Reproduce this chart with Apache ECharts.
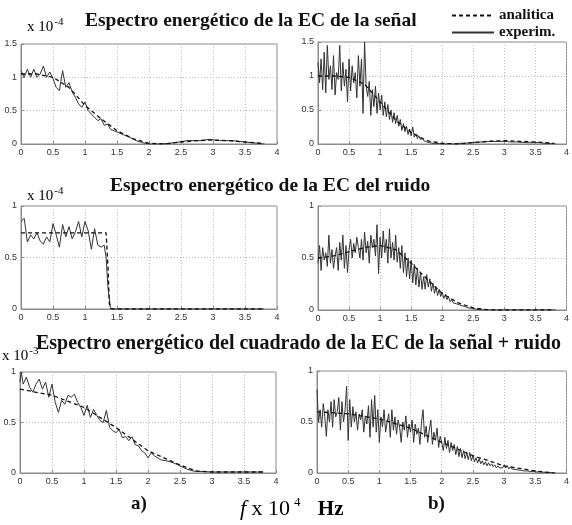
<!DOCTYPE html>
<html>
<head>
<meta charset="utf-8">
<script src="https://cdn.jsdelivr.net/npm/echarts@6/dist/echarts.min.js"></script>
<style>
  html, body { margin: 0; padding: 0; background: #fff; }
  #chart { width: 572px; height: 525px; }
</style>
</head>
<body>
<div id="chart"></div>
<script>
// frequency axis in units of 1e4 Hz
const xTicks = [0, 0.5, 1, 1.5, 2, 2.5, 3, 3.5, 4];
const stepB = 0.025; // sample spacing of the right-hand (b) columns

// --- row 1: señal (x 1e-4) ---
const fSigA = [0, 0.25, 0.5, 0.75, 1.0, 1.25, 1.5, 1.75, 2.0, 2.25, 2.5, 2.75, 3.0, 3.25, 3.5, 3.8];
const sigAnalytic = [1.05, 1.05, 1.0, 0.85, 0.58, 0.38, 0.2, 0.08, 0.01, 0.0, 0.03, 0.05, 0.06, 0.05, 0.03, 0.01];
const fSigExp = [0, 0.05, 0.1, 0.15, 0.2, 0.25, 0.3, 0.35, 0.4, 0.45, 0.5, 0.55, 0.6, 0.65, 0.7, 0.75, 0.8, 0.85, 0.9, 0.95,
  1.0, 1.05, 1.1, 1.15, 1.2, 1.25, 1.3, 1.35, 1.4, 1.5, 1.6, 1.7, 1.8, 1.9, 2.0, 2.2, 2.4, 2.6, 2.8, 2.95, 3.1, 3.3, 3.5, 3.7, 3.8];
const sigExpA = [1.1, 1.0, 1.12, 1.0, 1.12, 1.0, 1.05, 1.17, 1.0, 1.08, 0.98, 0.85, 0.8, 1.1, 0.85, 0.92, 0.78, 0.7, 0.6, 0.55,
  0.63, 0.5, 0.45, 0.4, 0.35, 0.38, 0.28, 0.3, 0.22, 0.18, 0.14, 0.1, 0.05, 0.02, 0.0, 0.0, 0.02, 0.05, 0.05, 0.07, 0.05, 0.05, 0.03, 0.01, 0.0];
const sigAnalyticB = [1.0, 1.0, 0.98, 0.88, 0.62, 0.35, 0.17, 0.05, 0.01, 0.0, 0.02, 0.04, 0.05, 0.04, 0.03, 0.01];
const sigExpB = [
  1.2, 0.9, 1.25, 0.8, 1.35, 0.75, 1.45, 0.95, 1.15, 0.8, 1.3, 0.72, 1.05, 0.95, 1.45, 0.78, 1.2, 0.85, 1.1, 0.62,
  1.25, 0.78, 1.15, 0.9, 1.05, 0.68, 1.3, 0.85, 1.25, 0.45, 1.5,
  0.85, 0.7, 0.92, 0.42, 0.8, 0.55, 0.85, 0.45, 0.75, 0.5, 0.72, 0.42, 0.62, 0.4, 0.58, 0.36, 0.5, 0.32, 0.46, 0.3,
  0.42, 0.26, 0.36, 0.2, 0.3, 0.18, 0.26, 0.14, 0.22, 0.12, 0.25, 0.1, 0.15, 0.08, 0.12, 0.06, 0.09, 0.05, 0.07, 0.03,
  0.05, 0.02, 0.03, 0.01, 0.02, 0.01,
  0.01, 0.005, 0.01, 0, 0.005, 0, 0, 0.005, 0, 0, 0.005, 0, 0.005, 0.01, 0.005, 0.01,
  0.02, 0.01, 0.03, 0.015, 0.035, 0.02, 0.04, 0.02, 0.045, 0.025, 0.05, 0.03, 0.055, 0.03, 0.05, 0.035, 0.06, 0.035, 0.055, 0.04,
  0.06, 0.035, 0.06, 0.04, 0.055, 0.035, 0.06, 0.04, 0.055, 0.035, 0.05, 0.03, 0.05, 0.03, 0.045, 0.03, 0.045, 0.025, 0.04, 0.025,
  0.04, 0.02, 0.035, 0.02, 0.03, 0.02, 0.03,
  0.02, 0.015, 0.02, 0.01, 0.015, 0.01, 0.01, 0.008, 0.008, 0.005, 0.005, 0.004, 0.003, 0.002
];

// --- row 2: ruido (x 1e-4) ---
const fNoiseA = [0, 1.33, 1.36, 1.38, 1.42, 3.8];
const noiseAnalyticA = [0.74, 0.74, 0.4, 0.05, 0.0, 0.0];
const fNoiseExp = [0, 0.05, 0.1, 0.15, 0.2, 0.25, 0.3, 0.35, 0.4, 0.45, 0.5, 0.55, 0.6, 0.65, 0.7, 0.75, 0.8, 0.85, 0.9, 0.95,
  1.0, 1.05, 1.1, 1.15, 1.2, 1.25, 1.3, 1.33, 1.36, 1.4, 3.8];
const noiseExpA = [0.85, 0.88, 0.65, 0.72, 0.68, 0.74, 0.66, 0.63, 0.7, 0.65, 0.83, 0.72, 0.6, 0.82, 0.7, 0.8, 0.68, 0.75, 0.85, 0.7,
  0.85, 0.76, 0.58, 0.78, 0.62, 0.6, 0.62, 0.5, 0.2, 0.0, 0.0];
const fNoiseB = [0, 0.25, 0.5, 0.75, 1.0, 1.25, 1.5, 1.75, 2.0, 2.25, 2.5, 2.75, 3.8];
const noiseAnalyticB = [0.5, 0.52, 0.56, 0.6, 0.62, 0.58, 0.45, 0.3, 0.16, 0.07, 0.02, 0.0, 0.0];
const noiseExpB = [
  0.45, 0.62, 0.38, 0.6, 0.48, 0.55, 0.42, 0.72, 0.45, 0.58, 0.4, 0.52, 0.6, 0.38, 0.65, 0.48, 0.72, 0.4, 0.62, 0.36,
  0.58, 0.68, 0.5, 0.64, 0.55, 0.7, 0.6, 0.5, 0.68, 0.48, 0.75, 0.55, 0.66, 0.45, 0.72, 0.6, 0.68, 0.52, 0.82, 0.35,
  0.7, 0.5, 0.76, 0.55, 0.68, 0.45, 0.78, 0.5, 0.65, 0.48, 0.72, 0.46, 0.6, 0.4, 0.62, 0.36, 0.55, 0.32, 0.5, 0.3,
  0.48, 0.26, 0.44, 0.24, 0.4, 0.22, 0.36, 0.2, 0.32, 0.2,
  0.34, 0.22, 0.3, 0.18, 0.26, 0.16, 0.22, 0.14, 0.2, 0.13, 0.17, 0.11, 0.15, 0.1, 0.13, 0.08, 0.1, 0.07, 0.08, 0.06,
  0.07, 0.05, 0.05, 0.04, 0.04, 0.03, 0.03, 0.02, 0.02, 0.015, 0.012, 0.01, 0.008, 0.005,
  0.004, 0.003, 0.002, 0.002, 0.001, 0.001, 0.001, 0.001, 0.001, 0.001, 0.001, 0.001, 0.001, 0.001, 0.001, 0.001, 0.001, 0.001, 0.001, 0.001,
  0.001, 0.001, 0.001, 0.001, 0.001, 0.001, 0.001, 0.001, 0.001, 0.001, 0.001, 0.001, 0.001, 0.001, 0.001, 0.001, 0.001, 0.001, 0.001, 0.001,
  0.001, 0.001, 0.001, 0.001, 0.001, 0.001, 0.001, 0.001, 0.001, 0.001
];

// --- row 3: cuadrado de señal + ruido (x 1e-3) ---
const fSqA = [0, 0.5, 1.0, 1.5, 2.0, 2.5, 2.75, 3.0, 3.8];
const sqAnalyticA = [0.83, 0.77, 0.65, 0.45, 0.22, 0.08, 0.02, 0.01, 0.01];
const fSqExp = [0, 0.02, 0.05, 0.1, 0.15, 0.2, 0.25, 0.3, 0.35, 0.4, 0.45, 0.5, 0.55, 0.6, 0.65, 0.7, 0.75, 0.8, 0.85, 0.9, 0.95,
  1.0, 1.05, 1.1, 1.15, 1.2, 1.25, 1.3, 1.35, 1.4, 1.45, 1.5, 1.55, 1.6, 1.65, 1.7, 1.75, 1.8, 1.85, 1.9, 1.95,
  2.0, 2.05, 2.1, 2.2, 2.3, 2.4, 2.5, 2.6, 2.7, 2.8, 3.0, 3.8];
const sqExpA = [0.9, 1.0, 0.88, 0.95, 0.85, 0.8, 0.88, 0.93, 0.83, 0.9, 0.75, 0.88, 0.7, 0.6, 0.72, 0.68, 0.77, 0.75, 0.78, 0.7, 0.65,
  0.57, 0.67, 0.55, 0.63, 0.57, 0.52, 0.5, 0.62, 0.45, 0.42, 0.4, 0.43, 0.35, 0.36, 0.32, 0.36, 0.28, 0.27, 0.22, 0.2,
  0.15, 0.2, 0.17, 0.13, 0.12, 0.1, 0.07, 0.04, 0.02, 0.015, 0.01, 0.01];
const fSqB = [0, 0.5, 1.0, 1.5, 2.0, 2.5, 3.0, 3.5, 3.8];
const sqAnalyticB = [0.6, 0.58, 0.53, 0.44, 0.3, 0.17, 0.07, 0.02, 0.0];
const sqExpB = [
  0.82, 0.5, 0.62, 0.45, 0.68, 0.55, 0.36, 0.62, 0.5, 0.7, 0.45, 0.72, 0.55, 0.6, 0.74, 0.42, 0.7, 0.5, 0.62, 0.85,
  0.32, 0.72, 0.45, 0.65, 0.5, 0.6, 0.42, 0.58, 0.52, 0.62, 0.4, 0.56, 0.48, 0.66, 0.35, 0.72, 0.45, 0.76, 0.4, 0.62,
  0.3, 0.55, 0.45, 0.62, 0.4, 0.5, 0.58, 0.35, 0.62, 0.42, 0.55, 0.38, 0.52, 0.45, 0.3, 0.5, 0.42, 0.56, 0.35, 0.48,
  0.4, 0.52, 0.3, 0.48, 0.38, 0.44, 0.28, 0.5, 0.62, 0.35, 0.46, 0.3, 0.42, 0.52, 0.28, 0.4, 0.32, 0.44, 0.25, 0.36,
  0.3, 0.22, 0.35, 0.24, 0.32, 0.2, 0.3, 0.22, 0.28, 0.18, 0.26, 0.16, 0.24, 0.15, 0.22, 0.14, 0.2, 0.13, 0.2, 0.12,
  0.17, 0.11, 0.15, 0.1, 0.14, 0.09, 0.12, 0.08, 0.11, 0.07, 0.1, 0.07, 0.09, 0.06, 0.08, 0.05, 0.07, 0.05, 0.06, 0.05,
  0.08, 0.05, 0.07, 0.04, 0.06, 0.04, 0.05, 0.035, 0.045, 0.03, 0.04, 0.025, 0.035, 0.02, 0.03, 0.02, 0.025, 0.015, 0.02, 0.015,
  0.018, 0.01, 0.015, 0.01, 0.012, 0.008, 0.01, 0.006, 0.008, 0.005, 0.004, 0.003, 0.002, 0.001
];

const pairs = (xs, ys) => ys.map((y, i) => [xs[i], y]);
const stepped = ys => ys.map((y, i) => [i * stepB, y]);

const serif = 'Liberation Serif, Times New Roman, serif';
const tickFont = 'Liberation Sans Narrow, Liberation Sans, Arial, sans-serif';

const grids = [
  { left: 21, top: 44, width: 256, height: 100, ymax: 1.5 },
  { left: 318, top: 42, width: 249, height: 102, ymax: 1.5 },
  { left: 21, top: 206, width: 256, height: 103, ymax: 1 },
  { left: 318, top: 206, width: 249, height: 104, ymax: 1 },
  { left: 20, top: 372, width: 256, height: 101, ymax: 1 },
  { left: 317, top: 371, width: 250, height: 102, ymax: 1 }
];

const lines = [
  [pairs(fSigA, sigAnalytic), pairs(fSigExp, sigExpA)],
  [pairs(fSigA, sigAnalyticB), stepped(sigExpB)],
  [pairs(fNoiseA, noiseAnalyticA), pairs(fNoiseExp, noiseExpA)],
  [pairs(fNoiseB, noiseAnalyticB), stepped(noiseExpB)],
  [pairs(fSqA, sqAnalyticA), pairs(fSqExp, sqExpA)],
  [pairs(fSqB, sqAnalyticB), stepped(sqExpB)]
];

const splitStyle = { show: true, lineStyle: { color: '#bdbdbd', type: [1, 2], width: 1 } };
const labelStyle = { fontSize: 9, color: '#333', fontFamily: tickFont, margin: 4 };

const series = [];
lines.forEach((pair, i) => {
  series.push({
    name: 'experim.', type: 'line', xAxisIndex: i, yAxisIndex: i, data: pair[1],
    symbol: 'none', animation: false, z: 2,
    itemStyle: { color: '#111' },
    lineStyle: { color: '#333', width: 1 }
  });
  series.push({
    name: 'analitica', type: 'line', xAxisIndex: i, yAxisIndex: i, data: pair[0],
    symbol: 'none', animation: false, z: 3,
    itemStyle: { color: '#111' },
    lineStyle: { color: '#111', width: 1.3, type: [4, 3] }
  });
});

const rich = {
  big: { fontFamily: serif, fontSize: 15, color: '#111' },
  sup: { fontFamily: serif, fontSize: 11, color: '#111', padding: [0, 0, 10, 1] }
};
const titleFont = 'bold 19.5px ' + serif;

const chart = echarts.init(document.getElementById('chart'));
chart.setOption({
  backgroundColor: '#fff',
  animation: false,
  legend: {
    orient: 'vertical', left: 446, top: 3, itemWidth: 42, itemHeight: 10, itemGap: 2,
    data: ['analitica', 'experim.'],
    itemStyle: { opacity: 0 },
    textStyle: { fontFamily: serif, fontWeight: 'bold', fontSize: 15, color: '#111' },
    selectedMode: false
  },
  grid: grids.map(g => ({
    left: g.left, top: g.top, width: g.width, height: g.height,
    show: true, borderColor: '#8a8a8a', borderWidth: 1, backgroundColor: '#fff'
  })),
  xAxis: grids.map((g, i) => ({
    type: 'value', gridIndex: i, min: 0, max: 4, interval: 0.5,
    axisLine: { show: true, lineStyle: { color: '#8a8a8a' } },
    axisTick: { show: true, inside: true, length: 3, lineStyle: { color: '#8a8a8a' } },
    axisLabel: labelStyle,
    splitLine: splitStyle
  })),
  yAxis: grids.map((g, i) => ({
    type: 'value', gridIndex: i, min: 0, max: g.ymax, interval: 0.5,
    axisLine: { show: true, lineStyle: { color: '#8a8a8a' } },
    axisTick: { show: true, inside: true, length: 3, lineStyle: { color: '#8a8a8a' } },
    axisLabel: labelStyle,
    splitLine: splitStyle
  })),
  series: series,
  graphic: [
    { type: 'text', left: 85, top: 11, style: { text: 'Espectro energético de la EC de la señal', font: titleFont, fill: '#111' } },
    { type: 'text', left: 27, top: 17, style: { text: '{big|x 10}{sup|-4}', rich: rich } },
    { type: 'text', left: 110, top: 176, style: { text: 'Espectro energético de la EC del ruido', font: titleFont, fill: '#111' } },
    { type: 'text', left: 27, top: 186, style: { text: '{big|x 10}{sup|-4}', rich: rich } },
    { type: 'text', left: 36, top: 334, style: { text: 'Espectro energético del cuadrado de la EC de la señal + ruido', font: 'bold 20px ' + serif, fill: '#111' } },
    { type: 'text', left: 2, top: 346, z: 5, style: { text: '{big|x 10}{sup|-3}', rich: rich } },
    { type: 'text', left: 131, top: 495, style: { text: 'a)', font: 'bold 19px ' + serif, fill: '#111' } },
    { type: 'text', left: 428, top: 495, style: { text: 'b)', font: 'bold 19px ' + serif, fill: '#111' } },
    { type: 'text', left: 240, top: 496, style: {
      text: '{f|f}{n| x 10}{s|4}{h| Hz}',
      rich: {
        f: { fontFamily: serif, fontStyle: 'italic', fontSize: 22, color: '#111' },
        n: { fontFamily: serif, fontSize: 22, color: '#111' },
        s: { fontFamily: serif, fontSize: 13, color: '#111', padding: [0, 12, 14, 4] },
        h: { fontFamily: serif, fontWeight: 'bold', fontSize: 21, color: '#111' }
      }
    } }
  ]
});
</script>
</body>
</html>
